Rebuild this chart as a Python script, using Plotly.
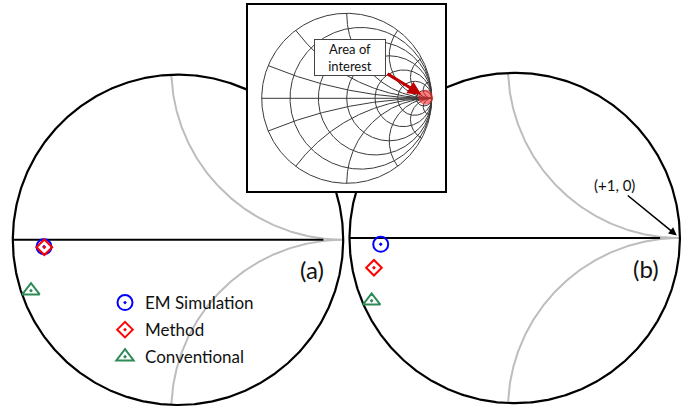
import numpy as np
import plotly.graph_objects as go

W, H = 688, 410

# ---------------- data (reflection-coefficient plane, Re/Im of Gamma) ----------------
series_names = ["EM Simulation", "Method", "Conventional"]
series_colors = ["#0000FF", "#FF0000", "#2E8B57"]
series_symbols = ["circle-open-dot", "diamond-open-dot", "triangle-up-open-dot"]
series_sizes = [15, 12, 15]

panel_a_re = [0.8189, 0.8191, 0.8110]
panel_a_im = [-0.0042, -0.0045, -0.0308]
panel_b_re = [0.8189, 0.8148, 0.8134]
panel_b_im = [-0.0038, -0.0180, -0.0380]

zoom_r_circle = 9.0            # constant-resistance circle of the zoomed views
zoom_x_arcs = [9.6, -9.6]      # constant-reactance arcs of the zoomed views
inset_r = [0.2, 0.5, 1, 2, 4, 10]
inset_x = [0.2, 0.5, 1, 2, 4, 10]
interest_re = [0.929]
interest_im = [0.012]

# ---------------- layout constants (pixels) ----------------
S_BIG = 1652.0                      # px per unit Gamma in zoomed panels
A_CX, A_CY = 178.0, 239.8
B_CX, B_CY = 514.7, 238.0
A_DOM = (0, 346)
B_DOM = (347, 688)
S_IN = 85.0
IN_CX, IN_CY = 346.7, 98.3
IN_BOX = (248, 5, 445, 191)         # x0, y0, x1, y1 (px from top-left)

FONT = "Lato"


def gamma(z):
    return (z - 1) / (z + 1)


def r_circle(r, n=721):
    t = np.linspace(0, 2 * np.pi, n)
    c = r / (1 + r)
    rad = 1 / (1 + r)
    return c + rad * np.cos(t), rad * np.sin(t)


def x_arc(x, rmin=0.0):
    rr = np.concatenate([[rmin], rmin + np.logspace(-3, 5, 800)])
    g = gamma(rr + 1j * x)
    return g.real, g.imag


g_center = zoom_r_circle / (1 + zoom_r_circle)
g_rad = 1 / (1 + zoom_r_circle)


def big_ranges(cx, cy, dom):
    xr = [g_center + (dom[0] - cx) / S_BIG, g_center + (dom[1] - cx) / S_BIG]
    yr = [(cy - H) / S_BIG, cy / S_BIG]
    return xr, yr


fig = go.Figure()


def add_zoom_panel(xa, ya, re_vals, im_vals, show_legend):
    # gray reactance arcs (inside the resistance circle)
    for xv in zoom_x_arcs:
        gx, gy = x_arc(xv, rmin=zoom_r_circle)
        fig.add_trace(go.Scatter(x=gx, y=gy, mode="lines", xaxis=xa, yaxis=ya,
                                 line=dict(color="#BDBDBD", width=2),
                                 hoverinfo="skip", showlegend=False))
    # real axis
    fig.add_trace(go.Scatter(x=[g_center - g_rad, 0.988], y=[0, 0], mode="lines",
                             xaxis=xa, yaxis=ya, line=dict(color="black", width=2),
                             hoverinfo="skip", showlegend=False))
    # resistance circle
    cx_, cy_ = r_circle(zoom_r_circle)
    fig.add_trace(go.Scatter(x=cx_, y=cy_, mode="lines", xaxis=xa, yaxis=ya,
                             line=dict(color="black", width=2.2),
                             hoverinfo="skip", showlegend=False))
    for i, name in enumerate(series_names):
        fig.add_trace(go.Scatter(
            x=[re_vals[i]], y=[im_vals[i]], mode="markers", name=name,
            xaxis=xa, yaxis=ya, legendgroup=name, showlegend=show_legend,
            marker=dict(symbol=series_symbols[i], size=series_sizes[i],
                        color=series_colors[i], line=dict(width=2, color=series_colors[i])),
            cliponaxis=False))


add_zoom_panel("x", "y", panel_a_re, panel_a_im, True)
add_zoom_panel("x2", "y2", panel_b_re, panel_b_im, False)

# ---------------- inset: full Smith chart ----------------
gx_all, gy_all = [], []
ox, oy = r_circle(0.0)
gx_all += list(ox) + [None]
gy_all += list(oy) + [None]
for r in inset_r:
    a, b = r_circle(r)
    gx_all += list(a) + [None]
    gy_all += list(b) + [None]
for xv in inset_x:
    for sgn in (1, -1):
        a, b = x_arc(sgn * xv)
        gx_all += list(a) + [None]
        gy_all += list(b) + [None]
gx_all += [-1, 1, None]
gy_all += [0, 0, None]
fig.add_trace(go.Scatter(x=gx_all, y=gy_all, mode="lines", xaxis="x3", yaxis="y3",
                         line=dict(color="#3A3A3A", width=1), hoverinfo="skip",
                         showlegend=False, connectgaps=False))
fig.add_trace(go.Scatter(x=interest_re, y=interest_im, mode="markers", xaxis="x3", yaxis="y3",
                         marker=dict(size=15, color="rgba(245,40,40,0.6)"),
                         hoverinfo="skip", showlegend=False, cliponaxis=False))

# ---------------- axes ----------------
axa_x, axa_y = big_ranges(A_CX, A_CY, A_DOM)
axb_x, axb_y = big_ranges(B_CX, B_CY, B_DOM)
in_x = [(IN_BOX[0] - IN_CX) / S_IN, (IN_BOX[2] - IN_CX) / S_IN]
in_y = [(IN_CY - IN_BOX[3]) / S_IN, (IN_CY - IN_BOX[1]) / S_IN]

hidden = dict(visible=True, showgrid=False, zeroline=False, showticklabels=False,
              ticks="", showline=False, fixedrange=True)

fig.update_layout(
    width=W, height=H,
    margin=dict(l=0, r=0, t=0, b=0),
    paper_bgcolor="white", plot_bgcolor="white",
    font=dict(family=FONT, color="black"),
    xaxis=dict(domain=[A_DOM[0] / W, A_DOM[1] / W], range=axa_x, **hidden),
    yaxis=dict(domain=[0, 1], range=axa_y, **hidden),
    xaxis2=dict(domain=[B_DOM[0] / W, B_DOM[1] / W], range=axb_x, **hidden),
    yaxis2=dict(domain=[0, 1], range=axb_y, anchor="x2", **hidden),
    xaxis3=dict(domain=[IN_BOX[0] / W, IN_BOX[2] / W], range=in_x, anchor="y3",
                visible=True, showgrid=False, zeroline=False, showticklabels=False, ticks="",
                showline=True, mirror=True, linecolor="black", linewidth=2, fixedrange=True),
    yaxis3=dict(domain=[1 - IN_BOX[3] / H, 1 - IN_BOX[1] / H], range=in_y, anchor="x3",
                visible=True, showgrid=False, zeroline=False, showticklabels=False, ticks="",
                showline=True, mirror=True, linecolor="black", linewidth=2, fixedrange=True),
    showlegend=True,
    legend=dict(x=105 / W, y=1 - 285 / H, xanchor="left", yanchor="top",
                bgcolor="rgba(0,0,0,0)", font=dict(family=FONT, size=17, color="#111"),
                tracegroupgap=2, itemclick=False, itemdoubleclick=False),
)
fig.update_layout(xaxis2_anchor="y2")

annotations = [
    dict(x=0.981, y=-0.0177, xref="x", yref="y", text="(a)", showarrow=False,
         font=dict(size=24, family=FONT, color="#111")),
    dict(x=0.9795, y=-0.0182, xref="x2", yref="y2", text="(b)", showarrow=False,
         font=dict(size=24, family=FONT, color="#111")),
    dict(x=1.0, y=0.0, xref="x2", yref="y2", text="(+1, 0)", showarrow=True,
         ax=-65, ay=-53, arrowhead=2, arrowsize=1, arrowwidth=1.6, arrowcolor="black",
         standoff=4, font=dict(size=15, family=FONT, color="#111")),
    dict(x=interest_re[0], y=interest_im[0], xref="x3", yref="y3", text="",
         showarrow=True, ax=0.462, ay=0.298, axref="x3", ayref="y3",
         arrowhead=2, arrowsize=0.9, arrowwidth=3, arrowcolor="#C00000", standoff=5),
    dict(x=(350 - IN_CX) / S_IN, y=(IN_CY - 57.5) / S_IN, xref="x3", yref="y3",
         text="Area of<br>interest", showarrow=False, bgcolor="white",
         bordercolor="#444", borderwidth=1, borderpad=2, width=66, height=31,
         font=dict(size=13, family=FONT, color="#111")),
]
fig.update_layout(annotations=annotations)

fig.write_html("out.html", config={"displayModeBar": False},
               post_script="document.body.style.margin='0px';document.body.style.overflow='hidden';")
